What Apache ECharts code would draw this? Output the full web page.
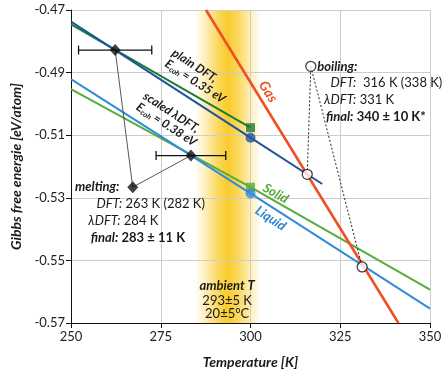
<!DOCTYPE html>
<html><head><meta charset="utf-8">
<script src="https://cdn.jsdelivr.net/npm/echarts@6/dist/echarts.min.js"></script>
<style>html,body{margin:0;padding:0;background:#fff}#c{width:448px;height:374px}</style>
</head><body><div id="c"></div>
<script>
// ---- data ----
const xTicks = [250, 275, 300, 325, 350];
const yTicks = [-0.47, -0.49, -0.51, -0.53, -0.55, -0.57];
const plainLiquidT = [250, 300, 320];
const plainLiquidG = [-0.4737, -0.5108, -0.5256];
const plainSolidT = [250, 300];
const plainSolidG = [-0.4746, -0.5076];
const scaledLiquidT = [250, 300, 350];
const scaledLiquidG = [-0.4921, -0.5286, -0.5654];
const scaledSolidT = [250, 300, 350];
const scaledSolidG = [-0.4953, -0.5266, -0.5593];
const gasT = [287.6, 341.2];
const gasG = [-0.4700, -0.5700];
const markerT = 300;
const meltT = [262.3, 283.4];
const meltG = [-0.4828, -0.5165];
const meltErr = [10.2, 9.7];
const meltLabelT = 267.2, meltLabelG = -0.5266;
const boilT = [315.8, 331.1];
const boilG = [-0.5225, -0.5521];
const boilLabelT = 316.8, boilLabelG = -0.4880;
const ambientRange = [284.5, 303];

const zip = (a, b) => a.map((v, i) => [v, b[i]]);
const FONT = 'Lato';
const TXT = '#1a1a1a';

// annotation anchors (data coordinates), alignment and rotation (degrees)
const notes = [
  {at: [277.4, -0.4852], align: 'left', rotate: -33,
   text: '{r|plain DFT,}\n{r|E}{sub|coh}{r| = 0.35 eV}'},
  {at: [269.4, -0.4990], align: 'left', rotate: -33,
   text: '{r|scaled λDFT,}\n{r|E}{sub|coh}{r| = 0.38 eV}'},
  {at: [304.9, -0.4961], align: 'center', rotate: -58, text: '{gas|Gas}'},
  {at: [307.0, -0.5286], align: 'center', rotate: -29, text: '{solid|Solid}'},
  {at: [305.6, -0.5366], align: 'center', rotate: -33, text: '{liq|Liquid}'},
  {at: [318.6, -0.4880], align: 'left', rotate: 0, text: '{bi|boiling:}'},
  {at: [322.3, -0.4933], align: 'left', rotate: 0, text: '{i|DFT:}{n|  316 K (338 K)}'},
  {at: [320.5, -0.4987], align: 'left', rotate: 0, text: '{i|λDFT:}{n| 331 K}'},
  {at: [321.0, -0.5041], align: 'left', rotate: 0, text: '{bi|final:}{b| 340 ± 10 K*}'},
  {at: [251.1, -0.5266], align: 'left', rotate: 0, text: '{bi|melting:}'},
  {at: [257.1, -0.5320], align: 'left', rotate: 0, text: '{i|DFT:}{n| 263 K (282 K)}'},
  {at: [254.8, -0.5373], align: 'left', rotate: 0, text: '{i|λDFT:}{n| 284 K}'},
  {at: [255.5, -0.5427], align: 'left', rotate: 0, text: '{bi|final:}{b| 283 ± 11 K}'},
  {at: [293.5, -0.5580], align: 'center', rotate: 0, text: '{bi|ambient T}'},
  {at: [293.5, -0.5628], align: 'center', rotate: 0, text: '{n|293±5 K}'},
  {at: [293.5, -0.5672], align: 'center', rotate: 0, text: '{n|20±5°C}'}
];

const rich = {
  r: {fontFamily: FONT, fontSize: 12, fontWeight: 'bold', fontStyle: 'italic', fill: TXT, color: TXT},
  bi: {fontFamily: FONT, fontSize: 13, fontWeight: 'bold', fontStyle: 'italic', fill: TXT, color: TXT},
  b: {fontFamily: FONT, fontSize: 13, fontWeight: 'bold', fill: TXT, color: TXT},
  i: {fontFamily: FONT, fontSize: 13, fontStyle: 'italic', fill: TXT, color: TXT},
  n: {fontFamily: FONT, fontSize: 13, fill: TXT, color: TXT},
  sub: {fontFamily: FONT, fontSize: 7.5, fontWeight: 'bold', fontStyle: 'italic', fill: TXT, color: TXT, padding: [6, 0, 0, 0]},
  gas: {fontFamily: FONT, fontSize: 14, fontWeight: 'bold', fontStyle: 'italic', fill: '#ef5025', color: '#ef5025'},
  solid: {fontFamily: FONT, fontSize: 13, fontWeight: 'bold', fontStyle: 'italic', fill: '#55a83a', color: '#55a83a'},
  liq: {fontFamily: FONT, fontSize: 13, fontWeight: 'bold', fontStyle: 'italic', fill: '#2b86cf', color: '#2b86cf'}
};

const band = new echarts.graphic.LinearGradient(0, 0, 1, 0, [
  {offset: 0, color: 'rgba(250,212,70,0)'},
  {offset: 0.15, color: 'rgba(250,210,65,0.35)'},
  {offset: 0.35, color: 'rgba(249,206,52,0.8)'},
  {offset: 0.5, color: 'rgba(249,203,45,1)'},
  {offset: 0.65, color: 'rgba(249,206,52,0.8)'},
  {offset: 0.85, color: 'rgba(250,210,65,0.35)'},
  {offset: 1, color: 'rgba(250,212,70,0)'}
]);

const lineSeries = (name, T, G, color, w) => ({
  name, type: 'line', data: zip(T, G), symbol: 'none', z: 4,
  lineStyle: {color, width: w}, silent: true, animation: false
});

const chart = echarts.init(document.getElementById('c'), null, {renderer: 'canvas'});
chart.setOption({
  animation: false,
  grid: {left: 71, right: 18, top: 10, bottom: 51},
  xAxis: {
    type: 'value', min: xTicks[0], max: xTicks[xTicks.length - 1], interval: 25, z: 2,
    axisLine: {lineStyle: {color: '#111', width: 1}},
    axisTick: {show: true, length: 5, lineStyle: {color: '#111'}},
    axisLabel: {color: '#222', fontFamily: FONT, fontSize: 13, margin: 7},
    splitLine: {show: true, lineStyle: {color: '#cdcdcd', width: 1}},
    name: 'Temperature [K]', nameLocation: 'middle', nameGap: 32,
    nameTextStyle: {fontFamily: FONT, fontSize: 14, fontWeight: 'bold', fontStyle: 'italic', color: TXT}
  },
  yAxis: {
    type: 'value', min: yTicks[yTicks.length - 1], max: yTicks[0], interval: 0.02, z: 2,
    axisLine: {show: true, lineStyle: {color: '#111', width: 1}},
    axisTick: {show: true, length: 5, lineStyle: {color: '#111'}},
    axisLabel: {color: '#222', fontFamily: FONT, fontSize: 13, margin: 6,
      formatter: v => v.toFixed(2)},
    splitLine: {show: true, lineStyle: {color: '#cdcdcd', width: 1}},
    name: 'Gibbs free energie [eV/atom]', nameLocation: 'middle', nameGap: 43,
    nameTextStyle: {fontFamily: FONT, fontSize: 14, fontWeight: 'bold', fontStyle: 'italic', color: TXT}
  },
  series: [
    {type: 'line', data: [], z: 1, silent: true,
     markArea: {silent: true, itemStyle: {color: band},
       data: [[{xAxis: ambientRange[0]}, {xAxis: ambientRange[1]}]]}},
    lineSeries('plainSolid', plainSolidT, plainSolidG, '#1c7b35', 2),
    lineSeries('plainLiquid', plainLiquidT, plainLiquidG, '#21549c', 2),
    lineSeries('scaledSolid', scaledSolidT, scaledSolidG, '#5aab3d', 2),
    lineSeries('scaledLiquid', scaledLiquidT, scaledLiquidG, '#2f8cd8', 2),
    lineSeries('gas', gasT, gasG, '#ef5025', 2.6),
    {type: 'scatter', z: 5, silent: true, symbol: 'rect', symbolSize: 9,
     data: [{value: [markerT, plainSolidG[1]], itemStyle: {color: '#1c7b35'}},
            {value: [markerT, scaledSolidG[1]], itemStyle: {color: '#5aab3d'}}]},
    {type: 'scatter', z: 5, silent: true, symbol: 'circle', symbolSize: 10,
     data: [{value: [markerT, plainLiquidG[1]], itemStyle: {color: '#21549c'}},
            {value: [markerT, scaledLiquidG[1]], itemStyle: {color: '#2f8cd8'}}]},
    {type: 'line', z: 6, symbol: 'none', silent: true,
     data: [[meltT[0], meltG[0]], [meltLabelT, meltLabelG], [meltT[1], meltG[1]]],
     lineStyle: {color: '#444', width: 0.9}},
    {type: 'line', z: 6, symbol: 'none', silent: true,
     data: [[boilT[0], boilG[0]], [boilLabelT, boilLabelG], [boilT[1], boilG[1]]],
     lineStyle: {color: '#222', width: 1, type: [2, 2]}},
    {type: 'custom', z: 7, silent: true,
     data: meltT.map((t, i) => [t, meltG[i], meltErr[i]]),
     renderItem: (params, api) => {
       const t = api.value(0), g = api.value(1), e = api.value(2);
       const l = api.coord([t - e, g]), r = api.coord([t + e, g]);
       const st = {stroke: '#111', lineWidth: 1.3};
       return {type: 'group', children: [
         {type: 'line', shape: {x1: l[0], y1: l[1], x2: r[0], y2: r[1]}, style: st},
         {type: 'line', shape: {x1: l[0], y1: l[1] - 4.5, x2: l[0], y2: l[1] + 4.5}, style: st},
         {type: 'line', shape: {x1: r[0], y1: r[1] - 4.5, x2: r[0], y2: r[1] + 4.5}, style: st}
       ]};
     }},
    {type: 'scatter', z: 8, silent: true, symbol: 'diamond', symbolSize: [11, 12],
     itemStyle: {color: '#111'},
     data: [[meltT[0], meltG[0]], [meltT[1], meltG[1]], [meltLabelT, meltLabelG]]},
    {type: 'scatter', z: 8, silent: true, symbol: 'circle', symbolSize: 10,
     itemStyle: {color: '#fff', borderColor: '#111', borderWidth: 1.3},
     data: [[boilT[0], boilG[0]], [boilT[1], boilG[1]], [boilLabelT, boilLabelG]]}
  ]
});

// text annotations placed through the chart's own coordinate conversion
chart.setOption({
  graphic: notes.map(n => {
    const p = chart.convertToPixel({gridIndex: 0}, n.at);
    return {type: 'text', x: p[0], y: p[1], rotation: n.rotate * Math.PI / 180, z: 20, silent: true,
      style: {text: n.text, rich, align: n.align, verticalAlign: 'middle'}};
  })
});
</script></body></html>
